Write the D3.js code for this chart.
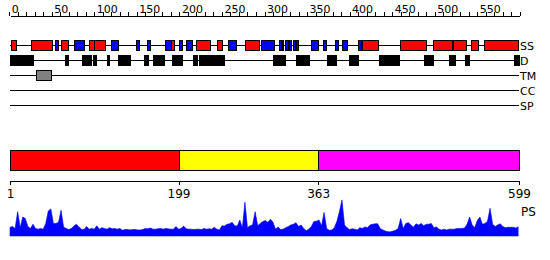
<!DOCTYPE html>
<html>
<head>
<meta charset="utf-8">
<script src="https://cdn.jsdelivr.net/npm/d3@7"></script>
<style>
  body { margin: 0; background: #fff; }
  text { font-family: "DejaVu Sans", sans-serif; }
</style>
</head>
<body>
<section></section>
<script>
// datos de la proteina (posiciones en residuos)
var seqLen = 599

// estructura secundaria: helices (rojo) y hebras (azul)
var ssStrand = [[54,57],[76,88],[120,128],[149,153],[162,166],[183,190],[200,204],[208,215],
  [257,266],[296,311],[317,322],[324,331],[333,339],[355,363],[369,373],[383,387],[391,397],[410,414]]
var ssHelix = [[2,8],[26,51],[61,69],[94,100],[100,113],[190,194],[220,236],[244,250],[277,294],
  [319,320],[328,329],[336,337],[414,433],[459,490],[498,520],[522,537],[543,551],[558,598]]

// regiones desordenadas
var disorder = [[1,28],[66,69],[86,93],[94,96],[98,101],[115,117],[128,130],[131,141],[158,163],
  [169,182],[191,203],[216,221],[223,224],[225,252],[310,324],[337,352],[373,383],[399,410],
  [434,458],[487,498],[517,524],[536,541],[593,599]]

var transmem = [[32,50]]
var coiled = []
var signal = []

var trackNames = ["SS", "D", "TM", "CC", "SP"]

// dominios
var domainStart = [1, 199, 363]
var domainEnd = [199, 363, 599]
var domainColor = ["#ff0000", "#ffff00", "#ff00ff"]
var domainTicks = [1, 199, 363, 599]

// PS: un valor cada 3 residuos empezando en 1
var psStep = 3
var psValues = [0.23,0.25,0.20,0.64,0.22,0.50,0.46,0.25,0.20,0.31,0.20,0.18,0.20,0.18,0.33,0.66,0.71,0.33,0.33,0.36,
  0.68,0.23,0.20,0.17,0.20,0.26,0.31,0.24,0.18,0.17,0.25,0.18,0.20,0.18,0.27,0.18,0.22,0.20,0.18,0.22,
  0.19,0.20,0.18,0.20,0.15,0.17,0.17,0.16,0.17,0.17,0.16,0.16,0.17,0.20,0.19,0.21,0.18,0.18,0.19,0.20,
  0.18,0.20,0.19,0.18,0.18,0.25,0.18,0.20,0.26,0.19,0.18,0.18,0.17,0.18,0.18,0.17,0.20,0.18,0.19,0.18,
  0.23,0.18,0.16,0.27,0.26,0.31,0.32,0.36,0.27,0.26,0.42,0.22,0.89,0.22,0.27,0.29,0.64,0.27,0.33,0.38,
  0.41,0.36,0.44,0.36,0.18,0.24,0.17,0.18,0.22,0.25,0.29,0.31,0.35,0.25,0.29,0.20,0.14,0.18,0.25,0.38,
  0.39,0.42,0.27,0.62,0.20,0.15,0.16,0.22,0.38,0.64,0.95,0.29,0.22,0.17,0.19,0.18,0.16,0.22,0.20,0.24,
  0.22,0.29,0.31,0.32,0.32,0.20,0.16,0.13,0.11,0.11,0.13,0.15,0.20,0.46,0.20,0.33,0.35,0.29,0.23,0.32,
  0.29,0.33,0.27,0.31,0.31,0.33,0.22,0.24,0.18,0.16,0.18,0.16,0.18,0.18,0.18,0.20,0.20,0.20,0.21,0.31,
  0.50,0.29,0.22,0.41,0.50,0.31,0.33,0.39,0.73,0.31,0.25,0.29,0.32,0.25,0.22,0.23,0.23,0.23,0.21,0.24]

var width = 550
var height = 260

var svg = d3.select("section")
    .append("svg")
    .attr("width", width)
    .attr("height", height)

var x = d3.scaleLinear()
    .domain([1, seqLen])
    .range([10, 519])

// eje superior
var ejeTop = d3.axisTop(x)
    .tickValues(d3.range(0, 601, 10))
    .tickSize(4)
    .tickSizeOuter(0)
    .tickFormat(function (d) { return (d % 50 == 0 && d < 600) ? d : "" })

var gTop = svg.append("g")
    .attr("transform", "translate(0,15.5)")
    .call(ejeTop)
gTop.selectAll("text")
    .attr("text-anchor", "start")
    .attr("dx", 2)
    .attr("y", -3)
    .style("font-size", "11px")
    .style("fill", "#000")
gTop.selectAll("line, path").attr("stroke", "#000").attr("shape-rendering", "crispEdges")

// pistas
var trackY = [45.5, 60.5, 75.5, 90.5, 105.5]

svg.selectAll(".track")
    .data(trackNames)
    .enter()
    .append("line")
    .attr("x1", x(1))
    .attr("x2", x(seqLen))
    .attr("y1", function (d, i) { return trackY[i] })
    .attr("y2", function (d, i) { return trackY[i] })
    .attr("stroke", "#000")
    .attr("shape-rendering", "crispEdges")

svg.selectAll(".trackLabel")
    .data(trackNames)
    .enter()
    .append("text")
    .attr("x", x(seqLen) + 1)
    .attr("y", function (d, i) { return trackY[i] + 4 })
    .style("font-size", "11px")
    .text(function (d) { return d })

function cajas(datos, fila, color) {
    svg.append("g")
        .selectAll("rect")
        .data(datos)
        .enter()
        .append("rect")
        .attr("x", function (d) { return Math.round(x(d[0])) + 0.5 })
        .attr("width", function (d) { return Math.max(1, Math.round(x(d[1]) - x(d[0]))) })
        .attr("y", trackY[fila] - 5)
        .attr("height", 10)
        .attr("fill", color)
        .attr("stroke", "#000")
        .attr("shape-rendering", "crispEdges")
}

cajas(ssStrand, 0, "#0000ff")
cajas(ssHelix, 0, "#ff0000")
cajas(disorder, 1, "#000")
cajas(transmem, 2, "#808080")
cajas(coiled, 3, "#000")
cajas(signal, 4, "#000")

// barra de dominios
svg.append("g")
    .selectAll("rect")
    .data(domainStart)
    .enter()
    .append("rect")
    .attr("x", function (d) { return Math.round(x(d)) + 0.5 })
    .attr("width", function (d, i) { return Math.round(x(domainEnd[i]) - x(d)) })
    .attr("y", 150.5)
    .attr("height", 20)
    .attr("fill", function (d, i) { return domainColor[i] })
    .attr("stroke", "#000")
    .attr("shape-rendering", "crispEdges")

var ejeBottom = d3.axisBottom(x)
    .tickValues(domainTicks)
    .tickSize(4)
    .tickSizeOuter(0)

var gBot = svg.append("g")
    .attr("transform", "translate(0,180.5)")
    .call(ejeBottom)
gBot.selectAll("text")
    .attr("y", 9)
    .attr("dy", "0.71em")
    .style("font-size", "12px")
    .style("fill", "#000")
gBot.selectAll("line, path").attr("stroke", "#000").attr("shape-rendering", "crispEdges")

// grafica PS
var yPs = d3.scaleLinear()
    .domain([0, 1])
    .range([236, 198])

var psPoints = psValues.map(function (v, i) { return [1 + i * psStep, v] })

var area = d3.area()
    .x(function (d) { return x(d[0]) })
    .y0(yPs(0))
    .y1(function (d) { return yPs(d[1]) })

svg.append("path")
    .datum(psPoints)
    .attr("d", area)
    .attr("fill", "#0000ff")
    .attr("stroke", "#0000ff")
    .attr("stroke-width", 0.6)

svg.append("text")
    .attr("x", 521)
    .attr("y", 216)
    .style("font-size", "12px")
    .text("PS")
</script>
</body>
</html>
